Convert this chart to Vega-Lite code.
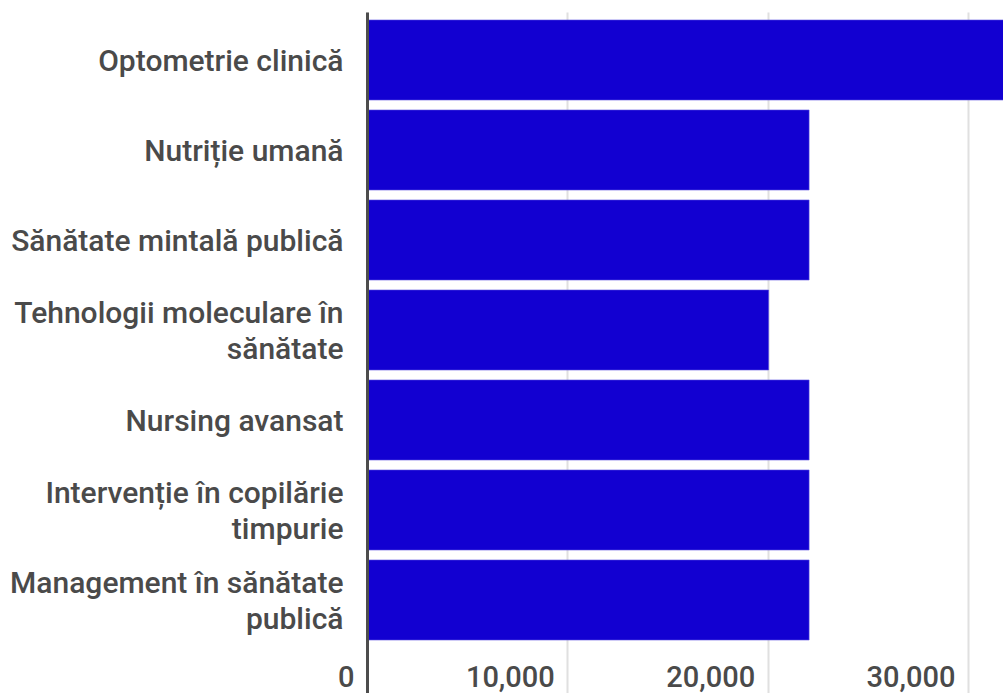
{
  "$schema": "https://vega.github.io/schema/vega-lite/v6.json",
  "width": 636,
  "height": 681,
  "autosize": {"type": "none"},
  "padding": {"left": 367, "top": 12, "right": 0, "bottom": 0},
  "background": "white",
  "config": {
    "view": {"stroke": null},
    "font": "Roboto"
  },
  "data": {
    "values": [
      {"program": "Optometrie clinică", "value": 33000},
      {"program": "Nutriție umană", "value": 22070},
      {"program": "Sănătate mintală publică", "value": 22070},
      {"program": "Tehnologii moleculare în sănătate", "value": 20050},
      {"program": "Nursing avansat", "value": 22070},
      {"program": "Intervenție în copilărie timpurie", "value": 22070},
      {"program": "Management în sănătate publică", "value": 22070}
    ]
  },
  "mark": {"type": "bar", "color": "#1200d1", "clip": true, "stroke": "#5a4fe0", "strokeWidth": 0.6},
  "encoding": {
    "y": {
      "field": "program",
      "type": "nominal",
      "sort": null,
      "scale": {"paddingInner": 0.1111, "paddingOuter": 0.3389, "align": 0.131},
      "axis": {
        "title": null,
        "ticks": false,
        "tickSize": 0,
        "labelPadding": 24,
        "labelFontSize": 30,
        "labelFontWeight": 500,
        "labelColor": "#4a4a4a",
        "labelLimit": 400,
        "labelLineHeight": 36,
        "labelOffset": {"condition": {"test": "length(datum.label) > 26", "value": -16}, "value": 2},
        "domainColor": "#4d4d4d",
        "domainWidth": 3,
        "grid": false,
        "zindex": 1,
        "labelExpr": "datum.label == 'Tehnologii moleculare în sănătate' ? ['Tehnologii moleculare în', 'sănătate'] : datum.label == 'Intervenție în copilărie timpurie' ? ['Intervenție în copilărie', 'timpurie'] : datum.label == 'Management în sănătate publică' ? ['Management în sănătate', 'publică'] : datum.label"
      }
    },
    "x": {
      "field": "value",
      "type": "quantitative",
      "scale": {"domain": [0, 31750], "nice": false},
      "axis": {
        "title": null,
        "values": [0, 10000, 20000, 30000],
        "format": ",d",
        "domain": false,
        "ticks": false,
        "tickSize": 0,
        "labelAlign": "right",
        "labelBaseline": "middle",
        "labelOffset": -13,
        "labelPadding": -16,
        "labelFontSize": 29,
        "labelFontWeight": 500,
        "labelColor": "#4a4a4a",
        "labelFlush": false,
        "labelOverlap": false,
        "grid": true,
        "gridColor": "#e0e0e0",
        "gridWidth": 2
      }
    }
  }
}
